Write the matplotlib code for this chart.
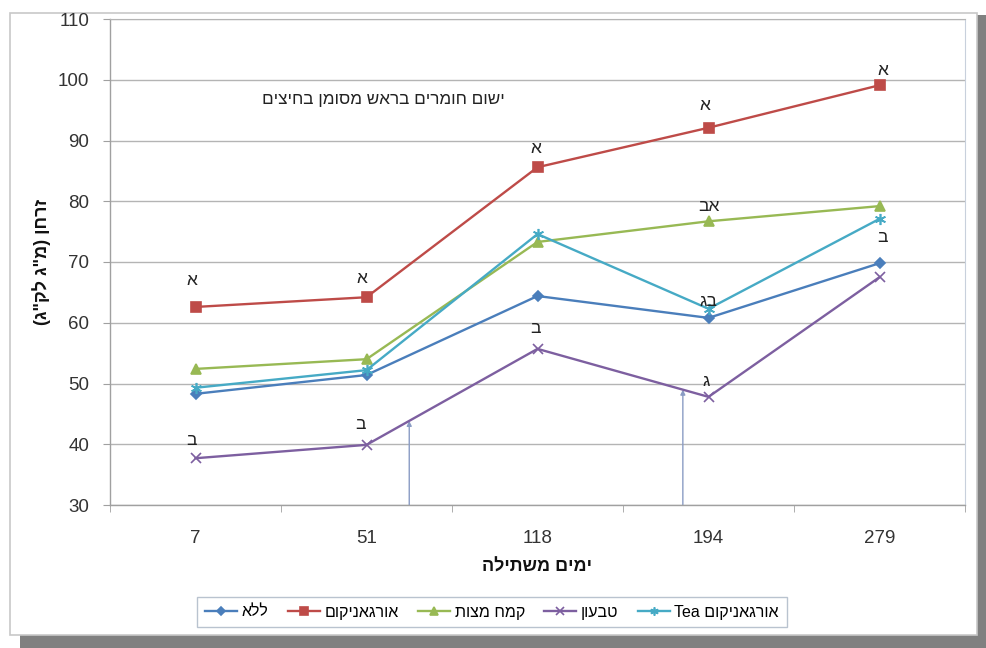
import re
import numpy as np
import matplotlib
matplotlib.use("Agg")
import matplotlib.pyplot as plt
from matplotlib.patches import Rectangle

plt.rcParams['font.family'] = ['Liberation Sans', 'DejaVu Sans']


def visual(s):
    """Lay out right-to-left text for a left-to-right renderer."""
    r = s[::-1]
    r = re.sub(r'[A-Za-z0-9]+', lambda m: m.group(0)[::-1], r)
    return r.translate(str.maketrans('()', ')('))


# ---- data ----
days = ["7", "51", "118", "194", "279"]
series_names = ["ללא", "אורגאניקום", "קמח מצות", "טבעון", "אורגאניקום Tea"]
lela = [48.3, 51.4, 64.4, 60.8, 69.8]
organikum = [62.6, 64.2, 85.6, 92.1, 99.1]
kemach_matzot = [52.4, 54.0, 73.3, 76.7, 79.2]
tivon = [37.7, 39.9, 55.7, 47.8, 67.5]
organikum_tea = [49.3, 52.2, 74.6, 62.3, 77.1]

# significance letters: (series index, day index, letter)
sig_letters = [
    (1, 0, "א"), (1, 1, "א"), (1, 2, "א"), (1, 3, "א"), (1, 4, "א"),
    (3, 0, "ב"), (3, 1, "ב"), (3, 2, "ב"), (3, 3, "ג"),
    (2, 3, "אב"), (4, 3, "בג"), (4, 4, "ב"),
]
# application times (position along the day axis)
application_x = [1.25, 2.85]

note_text = "ישום חומרים בראש מסומן בחיצים"
y_label = "זרחן (מ\"ג לק\"ג)"
x_label = "ימים משתילה"

# ---- styling ----
colors = ["#4A7EBB", "#BE4B48", "#98B954", "#7D5FA0", "#46AAC5"]
markers = ["D", "s", "^", "x", (6, 2, 0)]
msizes = [5, 7, 7, 7, 8]
letter_offsets = {  # pixel offsets of the letters above/below marks
    (1, 0): (-4, 26), (1, 1): (-5, 19), (1, 2): (-2, 19), (1, 3): (-4, 22), (1, 4): (3, 15),
    (3, 0): (-4, 18), (3, 1): (-6, 20), (3, 2): (-2, 20), (3, 3): (-2, 15),
    (2, 3): (0, 15), (4, 3): (0, 7), (4, 4): (3, -19),
}

W, H = 987, 648
fig = plt.figure(figsize=(W / 100, H / 100), dpi=100)
fig.patch.set_facecolor("white")

# drop shadow and framed chart area
fig.patches.append(Rectangle((20 / W, 0), 967 / W, (H - 15) / H,
                             transform=fig.transFigure, facecolor="#808080",
                             edgecolor="none", zorder=-3))
fig.patches.append(Rectangle((10 / W, 13 / H), 967 / W, 622 / H,
                             transform=fig.transFigure, facecolor="white",
                             edgecolor="#C8C8C8", lw=1.2, zorder=-2))

ax = fig.add_axes([110 / W, (H - 505) / H, 855 / W, 486 / H])
ax.set_facecolor("none")

all_series = [lela, organikum, kemach_matzot, tivon, organikum_tea]
x = np.arange(len(days))
handles = []
for vals, name, c, m, ms in zip(all_series, series_names, colors, markers, msizes):
    h, = ax.plot(x, vals, color=c, lw=1.7, marker=m, markersize=ms,
                 markerfacecolor=c, markeredgecolor=c, markeredgewidth=1.2,
                 label=visual(name), zorder=3)
    handles.append(h)

for si, di, letter in sig_letters:
    dx, dy = letter_offsets[(si, di)]
    ax.annotate(visual(letter), (x[di], all_series[si][di]), xytext=(dx, dy),
                textcoords="offset pixels", ha="center", va="center",
                fontsize=12.5, color="#222222", zorder=4)

# arrows marking the application times, pointing to the טבעון line
for ax_x in application_x:
    tip = np.interp(ax_x, x, tivon)
    ax.annotate("", xy=(ax_x, tip), xytext=(ax_x, 30),
                arrowprops=dict(arrowstyle="-|>", color="#8A9CC4", lw=1.0,
                                mutation_scale=7, shrinkA=0, shrinkB=0),
                zorder=2)

ax.text(1.1, 96.8, visual(note_text), ha="center", va="center",
        fontsize=12.3, color="#222222")

ax.set_xlim(-0.5, len(days) - 0.5)
ax.set_ylim(30, 110)
ax.set_yticks(np.arange(30, 111, 10))
ax.set_xticks(x)
ax.set_xticklabels(days)
ax.set_xticks(np.arange(-0.5, len(days), 1.0), minor=True)
ax.tick_params(axis="x", which="major", length=0, pad=18, labelsize=13.5, colors="#333333")
ax.tick_params(axis="x", which="minor", length=5, color="#A0A0A0", direction="out")
ax.tick_params(axis="y", length=5, color="#A0A0A0", pad=10, labelsize=13.5, labelcolor="#333333")

ax.grid(axis="y", color="#B4B4B4", lw=1.0, zorder=0)
for side in ["left", "bottom"]:
    ax.spines[side].set_color("#A0A0A0")
    ax.spines[side].set_linewidth(1.0)
ax.spines["top"].set_color("#B4B4B4")
ax.spines["right"].set_color("#C8D0DC")

ax.set_xlabel(visual(x_label), fontsize=13, fontweight="bold", labelpad=8, color="#111111")
ax.set_ylabel(visual(y_label), fontsize=13, fontweight="bold", labelpad=5, color="#111111")

leg = fig.legend(handles=handles, loc="center", bbox_to_anchor=(492 / W, (H - 612) / H),
                 ncol=5, fontsize=11.5, frameon=True, fancybox=False, markerscale=0.75,
                 handlelength=2.0, handletextpad=0.3, columnspacing=1.2,
                 borderpad=0.5)
leg.get_frame().set_edgecolor("#A8B4C4")
leg.get_frame().set_linewidth(1.0)

fig.savefig("out.png", dpi=100, facecolor="white")
